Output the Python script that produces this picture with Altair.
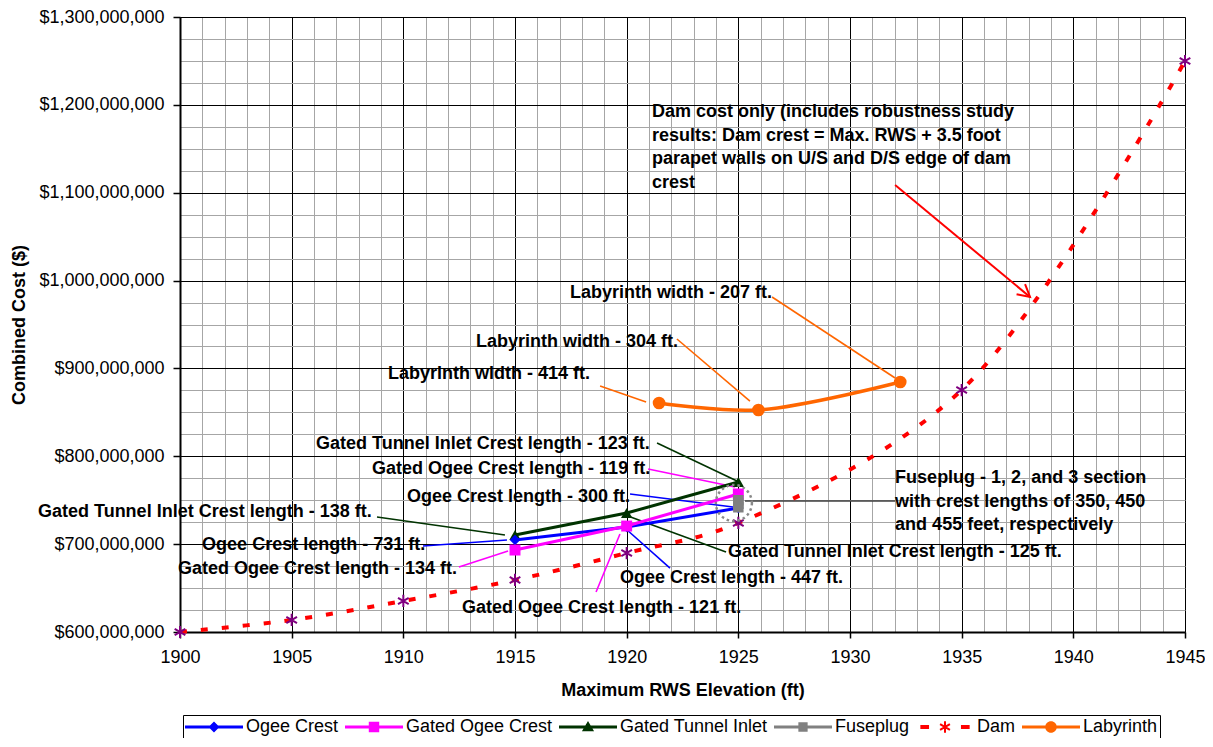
import math
import altair as alt
import pandas as pd

# ---------------- data ----------------
series_names = ["Ogee Crest", "Gated Ogee Crest", "Gated Tunnel Inlet", "Fuseplug", "Dam", "Labyrinth"]

ogee_elev = [1915, 1920, 1925]
ogee_cost = [704.7e6, 719.5e6, 741.1e6]

gated_ogee_elev = [1915, 1920, 1925]
gated_ogee_cost = [693.3e6, 720.6e6, 757.1e6]

tunnel_elev = [1915, 1920, 1925]
tunnel_cost = [710.4e6, 735.4e6, 770.7e6]

fuse_elev = [1925, 1925, 1925]
fuse_cost = [742e6, 746e6, 750e6]

dam_elev = [1900, 1905, 1910, 1915, 1920, 1925, 1935, 1945]
dam_cost = [600e6, 613.7e6, 635.3e6, 659.2e6, 689.9e6, 724.1e6, 875.4e6, 1249.9e6]

lab_elev = [1921.45, 1925.9, 1932.25]
lab_cost = [860.6e6, 852.7e6, 884.5e6]

x_ticks = list(range(1900, 1946))
y_ticks = [600e6 + 25e6 * i for i in range(29)]

ann_text = [
    "Dam cost only (includes robustness study\nresults: Dam crest = Max. RWS + 3.5 foot\nparapet walls on U/S and D/S edge of dam\ncrest",
    "Labyrinth width - 207 ft.",
    "Labyrinth width - 304 ft.",
    "Labyrinth width - 414 ft.",
    "Gated Tunnel Inlet Crest length - 123 ft.",
    "Gated Ogee Crest length - 119 ft.",
    "Ogee Crest length - 300 ft.",
    "Gated Tunnel Inlet Crest length - 138 ft.",
    "Ogee Crest length - 731 ft.",
    "Gated Ogee Crest length - 134 ft.",
    "Gated Tunnel Inlet Crest length - 125 ft.",
    "Ogee Crest length - 447 ft.",
    "Gated Ogee Crest length - 121 ft.",
    "Fuseplug - 1, 2, and 3 section\nwith crest lengths of 350, 450\nand 455 feet, respectively",
]
ann_x = [1921.13, 1917.46, 1913.25, 1909.31, 1906.09, 1908.60, 1910.16,
         1893.64, 1900.99, 1899.91, 1924.54, 1919.70, 1912.63, 1932.02]
ann_y = [1191.9e6, 985.9e6, 930.1e6, 893.7e6, 814.0e6, 785.5e6, 753.7e6,
         736.6e6, 699.0e6, 671.7e6, 691.1e6, 661.5e6, 627.3e6, 775.3e6]

lead_series = ["Dam", "Labyrinth", "Labyrinth", "Labyrinth", "Gated Tunnel Inlet",
               "Gated Ogee Crest", "Ogee Crest", "Gated Tunnel Inlet", "Ogee Crest",
               "Gated Ogee Crest", "Gated Tunnel Inlet", "Ogee Crest", "Gated Ogee Crest",
               "Fuseplug"]
lead_x1 = [1932.02, 1926.51, 1922.25, 1918.81, 1921.36, 1920.96, 1920.15,
           1908.82, 1910.88, 1912.49, 1919.93, 1920.02, 1919.70, 1925.30]
lead_y1 = [1108.8e6, 981.3e6, 933.5e6, 880.0e6, 815.1e6, 785.5e6, 757.1e6,
           730.9e6, 697.9e6, 674.0e6, 733.2e6, 716.1e6, 711.5e6, 749.1e6]
lead_x2 = [1938.06, 1932.02, 1925.52, 1920.87, 1924.94, 1924.85, 1924.76,
           1914.55, 1914.64, 1914.69, 1924.45, 1921.94, 1918.63, 1932.02]
lead_y2 = [981.3e6, 889.1e6, 862.9e6, 861.8e6, 771.9e6, 765.0e6, 742.3e6,
           710.4e6, 704.7e6, 692.2e6, 691.1e6, 672.8e6, 645.5e6, 749.1e6]

fuse_ring_x = [1924.8]
fuse_ring_y = [746.8e6]

# ---------------- styles ----------------
FONT = "Liberation Sans"
BLUE, MAGENTA, DKGREEN, GRAY, RED, PURPLE, ORANGE = (
    "#0000FF", "#FF00FF", "#003300", "#808080", "#FF0000", "#800080", "#FF6600")
series_colors = [BLUE, MAGENTA, DKGREEN, GRAY, RED, ORANGE]
leader_colors = {"Dam": RED, "Labyrinth": ORANGE, "Gated Tunnel Inlet": DKGREEN,
                 "Gated Ogee Crest": MAGENTA, "Ogee Crest": BLUE, "Fuseplug": "#404040"}

ASTERISK = "M0,-1L0,1M-0.87,-0.5L0.87,0.5M-0.87,0.5L0.87,-0.5"


def bar(x0, y0, x1, y1, w):
    """Filled thin polygon from (x0,y0) to (x1,y1), clockwise on screen."""
    dx, dy = x1 - x0, y1 - y0
    L = math.hypot(dx, dy)
    nx, ny = -dy / L * w, dx / L * w
    pts = [(x0 + nx, y0 + ny), (x1 + nx, y1 + ny), (x1 - nx, y1 - ny), (x0 - nx, y0 - ny)]
    area = sum(pts[i][0] * pts[(i + 1) % 4][1] - pts[(i + 1) % 4][0] * pts[i][1] for i in range(4))
    if area < 0:
        pts = pts[::-1]
    return "M" + "L".join(f"{px:.3f},{py:.3f}" for px, py in pts) + "Z"


LINE = bar(-1, 0, 1, 0, 0.052)
leg_paths = [
    LINE + "M0,-0.19L0.19,0L0,0.19L-0.19,0Z",
    LINE + "M-0.18,-0.18L0.18,-0.18L0.18,0.18L-0.18,0.18Z",
    LINE + "M0,-0.21L0.21,0.15L-0.21,0.15Z",
    LINE + "M-0.16,-0.16L0.16,-0.16L0.16,0.16L-0.16,0.16Z",
    bar(-0.85, 0, -0.55, 0, 0.07) + bar(0.55, 0, 0.85, 0, 0.07)
    + bar(0, -0.2, 0, 0.2, 0.035) + bar(-0.17, -0.1, 0.17, 0.1, 0.035) + bar(-0.17, 0.1, 0.17, -0.1, 0.035),
    LINE + "M-0.2,0A0.2,0.2,0,1,1,0.2,0A0.2,0.2,0,1,1,-0.2,0Z",
]

x_scale = alt.Scale(domain=[1900, 1945], nice=False, zero=False)
y_scale = alt.Scale(domain=[600e6, 1300e6], nice=False, zero=False)

x_axis = alt.Axis(
    values=x_ticks, format="d",
    labelExpr="datum.value % 5 === 0 ? datum.label : ''",
    grid=True,
    gridColor={"condition": {"test": "datum.value % 5 === 0", "value": "#000000"}, "value": "#a6a6a6"},
    gridWidth=1,
    tickColor={"condition": {"test": "datum.value % 5 === 0", "value": "#000000"}, "value": "transparent"},
    tickSize=6, tickWidth=1.5, labelPadding=10,
    labelFont=FONT, labelFontSize=18, labelColor="black",
    labelOverlap=False, labelFlush=False,
    domainColor="black", domainWidth=2,
    title="Maximum RWS Elevation (ft)", titleFont=FONT, titleFontSize=18,
    titleFontWeight="bold", titleColor="black", titlePadding=15,
)
y_axis = alt.Axis(
    values=y_ticks, format="$,.0f",
    labelExpr="datum.value % 100000000 === 0 ? datum.label : ''",
    grid=True,
    gridColor={"condition": {"test": "datum.value % 100000000 === 0", "value": "#000000"}, "value": "#a6a6a6"},
    gridWidth=1,
    tickColor={"condition": {"test": "datum.value % 100000000 === 0", "value": "#000000"}, "value": "transparent"},
    tickSize=7, tickWidth=1.5, labelPadding=9,
    labelFont=FONT, labelFontSize=18, labelColor="black",
    labelOverlap=False, labelFlush=False,
    domainColor="black", domainWidth=2,
    title="Combined Cost ($)", titleFont=FONT, titleFontSize=18,
    titleFontWeight="bold", titleColor="black", titlePadding=10,
)


def X(field):
    return alt.X(f"{field}:Q", scale=x_scale, axis=x_axis)


def Y(field):
    return alt.Y(f"{field}:Q", scale=y_scale, axis=y_axis)


layers = []


def series(xs, ys, color, shape, size, width=3, dash=None, interp="linear",
           marker_color=None, filled=True, stroke_w=1.5):
    df = pd.DataFrame({"x": xs, "y": ys})
    base = alt.Chart(df).encode(x=X("x"), y=Y("y"))
    lkw = dict(color=color, strokeWidth=width, interpolate=interp)
    if dash:
        lkw["strokeDash"] = dash
        lkw["strokeCap"] = "butt"
    line = base.mark_line(**lkw)
    mc = marker_color or color
    if filled:
        pts = base.mark_point(shape=shape, size=size, filled=True, color=mc, opacity=1)
    else:
        pts = base.mark_point(shape=shape, size=size, filled=False, color=mc,
                              strokeWidth=stroke_w, opacity=1)
    return [line, pts]


# leader lines
lead_df = pd.DataFrame({"s": lead_series, "x1": lead_x1, "y1": lead_y1, "x2": lead_x2, "y2": lead_y2})
for s, c in leader_colors.items():
    w = 2 if s == "Dam" else 1.6
    layers.append(
        alt.Chart(lead_df).transform_filter(alt.datum.s == s)
        .mark_rule(color=c, strokeWidth=w)
        .encode(x=X("x1"), y=Y("y1"), x2="x2:Q", y2="y2:Q")
    )

# arrow head on dam leader
arrow_df = lead_df[lead_df.s == "Dam"]
layers.append(
    alt.Chart(arrow_df).mark_point(shape="M-1,-0.55L0,0L-1,0.55", size=576, filled=False,
                                   color=RED, strokeWidth=2, angle=40, opacity=1)
    .encode(x=X("x2"), y=Y("y2"))
)

layers += series(dam_elev, dam_cost, RED, ASTERISK, 150, width=4, dash=[7, 14],
                 interp="catmull-rom", marker_color=PURPLE, filled=False, stroke_w=2)
layers += series(tunnel_elev, tunnel_cost, DKGREEN, "triangle-up", 130)
layers += series(ogee_elev, ogee_cost, BLUE, "diamond", 110)
layers += series(gated_ogee_elev, gated_ogee_cost, MAGENTA, "square", 120)
layers += series(fuse_elev, fuse_cost, GRAY, "square", 110)
layers += series(lab_elev, lab_cost, ORANGE, "circle", 160, width=3.5, interp="catmull-rom")

# dotted ring around fuseplug points
layers.append(
    alt.Chart(pd.DataFrame({"x": fuse_ring_x, "y": fuse_ring_y}))
    .mark_point(shape="circle", size=1300, filled=False, color="#888888",
                strokeWidth=2.5, strokeDash=[2.5, 3], opacity=1)
    .encode(x=X("x"), y=Y("y"))
)

# annotation text
ann_df = pd.DataFrame({"t": ann_text, "x": ann_x, "y": ann_y})
layers.append(
    alt.Chart(ann_df).mark_text(align="left", baseline="middle", font=FONT, fontSize=18,
                                fontWeight="bold", color="black", lineBreak="\n", lineHeight=23.7)
    .encode(x=X("x"), y=Y("y"), text="t:N")
)

# legend carrier (marks clipped away, legend kept)
leg = alt.Legend(
    title=None, orient="none", legendX=3, legendY=698, direction="horizontal",
    strokeColor="black", fillColor="white", padding=2, cornerRadius=0,
    symbolSize=3364, symbolStrokeWidth=0, symbolOpacity=1, clipHeight=20,
    labelFont=FONT, labelFontSize=18, labelColor="black", labelOffset=3,
    columnPadding=6, labelLimit=400,
)
layers.append(
    alt.Chart(pd.DataFrame({"series": series_names}))
    .mark_point(filled=True, opacity=1, clip=True)
    .encode(
        x=alt.value(-2000), y=alt.value(-2000),
        color=alt.Color("series:N", scale=alt.Scale(domain=series_names, range=series_colors), legend=leg),
        shape=alt.Shape("series:N", scale=alt.Scale(domain=series_names, range=leg_paths), legend=leg),
    )
)

chart = (
    alt.layer(*layers)
    .properties(width=1005, height=615,
                padding={"left": 172, "top": 9, "right": 20, "bottom": 106},
                autosize=alt.AutoSizeParams(type="none"))
    .configure_view(stroke="transparent")
    .configure(background="white")
)

chart.save("out.html", embed_options={"renderer": "svg", "actions": False})
